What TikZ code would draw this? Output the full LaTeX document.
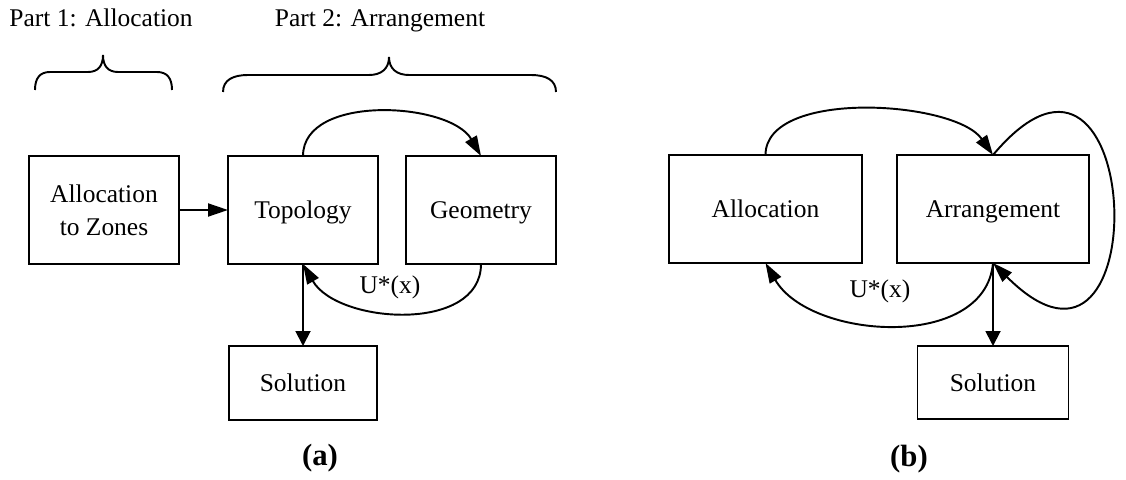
\documentclass[tikz,border=0pt]{standalone}
\usepackage{fontspec}
\setmainfont{Liberation Serif}
\usetikzlibrary{arrows.meta}

\begin{document}
\begin{tikzpicture}[line width=1.1pt, every node/.style={outer sep=0pt},
        blok/.style={draw, minimum width=3cm, minimum height=2.16cm, align=center, text depth=0pt, font=\fontsize{14.5}{18.5}\selectfont},
        lbl/.style={text depth=0pt, font=\fontsize{14.5}{18.5}\selectfont},
        figcap/.style={font=\fontsize{17.5}{20}\selectfont\bfseries},
        flow/.style={-{Triangle[length=4mm,width=2.6mm]}},
        down/.style={-{Triangle[length=3mm,width=3mm]}}]
        \useasboundingbox (0,0) rectangle (22.52,9.58);
        % (a)
        \node (part1) [lbl] at (2.02,9.22) {Part 1: Allocation};
        \node (part2) [lbl] at (7.60,9.22) {Part 2: Arrangement};
        \draw (0.70,7.78) .. controls (0.70,8.02) and (0.80,8.14) .. (1.00,8.14) -- (1.76,8.14)
            .. controls (1.96,8.14) and (2.06,8.26) .. (2.06,8.48)
            .. controls (2.06,8.26) and (2.16,8.14) .. (2.36,8.14) -- (3.14,8.14)
            .. controls (3.34,8.14) and (3.44,8.02) .. (3.44,7.78);
        \draw (4.46,7.74) .. controls (4.46,7.98) and (4.66,8.08) .. (4.96,8.08) -- (7.38,8.08)
            .. controls (7.62,8.08) and (7.78,8.20) .. (7.78,8.44)
            .. controls (7.78,8.20) and (7.94,8.08) .. (8.18,8.08) -- (10.62,8.08)
            .. controls (10.92,8.08) and (11.12,7.98) .. (11.12,7.74);
        \node (zones) [blok] at (2.08,5.38) {Allocation\\to Zones};
        \node (topo) [blok] at (6.06,5.38) {Topology};
        \node (geom) [blok] at (9.62,5.38) {Geometry};
        \node (sola) [blok, minimum width=2.96cm, minimum height=1.48cm] at (6.06,1.92) {Solution};
        \node (ua) [lbl] at (7.80,3.88) {U*(x)};
        \node (capa) [figcap] at (6.40,0.42) {(a)};
        \draw [flow] (zones) -- (topo);
        \draw [flow] (topo.north) to[out=90,in=120,looseness=0.9] (geom.north);
        \draw [flow] (geom.south) to[out=-90,in=-60] (topo.south);
        \draw [down] (topo) -- (sola);
        % (b)
        \node (alloc) [blok, minimum width=3.86cm] at (15.31,5.40) {Allocation};
        \node (arr) [blok, minimum width=3.84cm] at (19.86,5.40) {Arrangement};
        \node (solb) [blok, minimum width=3.02cm, minimum height=1.46cm] at (19.86,1.93) {Solution};
        \node (ub) [lbl] at (17.60,3.80) {U*(x)};
        \node (capb) [figcap] at (18.18,0.40) {(b)};
        \draw [flow] (alloc.north) to[out=90,in=125,looseness=0.75] (arr.north);
        \draw [flow] (arr.north) to[out=50,in=-45,looseness=5.6] (arr.south);
        \draw [flow] (arr.south) to[out=-95,in=-60] (alloc.south);
        \draw [down] (arr) -- (solb);
    \end{tikzpicture}
\end{document}
